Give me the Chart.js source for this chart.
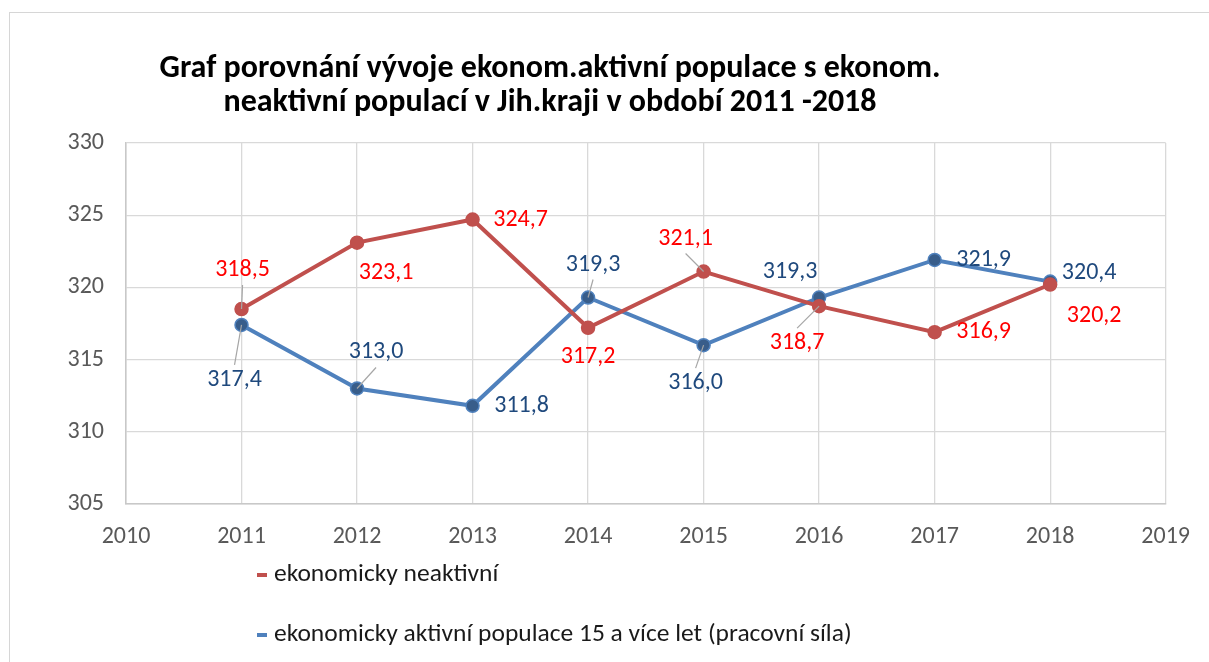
<!DOCTYPE html>
<html><head><meta charset="utf-8">
<script src="https://cdn.jsdelivr.net/npm/chart.js@4/dist/chart.umd.min.js"></script>
<style>
html,body{margin:0;padding:0;background:#fff;overflow:hidden;width:1209px;height:662px}
#frame{position:absolute;left:9px;top:12px;width:1400px;height:900px;border:1.3px solid #d6d6d6;box-sizing:border-box}
#wrap{position:absolute;left:0;top:0;width:1209px;height:662px}
</style></head><body>
<div id="frame"></div>
<div id="wrap"><canvas id="c" width="1209" height="662"></canvas></div>
<script>
// ---- data ----
const years = [2011, 2012, 2013, 2014, 2015, 2016, 2017, 2018];
const inactive = [318.5, 323.1, 324.7, 317.2, 321.1, 318.7, 316.9, 320.2];
const active = [317.4, 313.0, 311.8, 319.3, 316.0, 319.3, 321.9, 320.4];
const xTickLabels = ['2010','2011','2012','2013','2014','2015','2016','2017','2018','2019'];
const yTickLabels = ['305','310','315','320','325','330'];
const seriesNames = ['ekonomicky neaktivní', 'ekonomicky aktivní populace 15 a více let (pracovní síla)'];
const titleLines = ['Graf porovnání vývoje ekonom.aktivní populace s ekonom.', 'neaktivní populací v Jih.kraji v období 2011 -2018'];

// ---- label placement (pixel offsets from point, leader line flag) ----
const redLabelPlace = [[1,-39,true],[29,30,false],[48,0,false],[0,29,false],[-18,-33,true],[-22,37,true],[49,0,false],[44,31,false]];
const blueLabelPlace = [[-7,55,true],[19,-36,true],[49,0,false],[5,-33,true],[-8,38,true],[-29,-26,false],[49,0,false],[39,-9,false]];

const FONT = 'Carlito, Lato, "Open Sans", sans-serif';
const RED = '#c0504d', BLUE = '#4f81bd', BLUE_DARK = '#385d8a';
const labelColors = ['#ff0000', '#1f497d'];
const places = [redLabelPlace, blueLabelPlace];

const fmt = v => v.toFixed(1).replace('.', ',');

const labelsPlugin = {
  id: 'dlabels',
  afterDatasetsDraw(chart) {
    const ctx = chart.ctx;
    ctx.save();
    ctx.font = '24px ' + FONT;
    ctx.textAlign = 'center';
    ctx.textBaseline = 'middle';
    chart.data.datasets.forEach((ds, di) => {
      const meta = chart.getDatasetMeta(di);
      meta.data.forEach((pt, i) => {
        const [dx, dy, leader] = places[di][i];
        const lx = pt.x + dx, ly = pt.y + dy;
        if (leader) {
          ctx.strokeStyle = '#a6a6a6';
          ctx.lineWidth = 1.2;
          ctx.beginPath();
          ctx.moveTo(lx, ly + (dy > 0 ? -15 : 15));
          ctx.lineTo(pt.x, pt.y);
          ctx.stroke();
        }
        ctx.fillStyle = labelColors[di];
        ctx.fillText(fmt(ds.data[i].y), lx, ly);
      });
    });
    ctx.restore();
  }
};

const titleLegendPlugin = {
  id: 'titleLegend',
  afterDraw(chart) {
    const ctx = chart.ctx;
    ctx.save();
    ctx.fillStyle = '#000';
    ctx.font = 'bold 32px ' + FONT;
    ctx.textAlign = 'center';
    ctx.textBaseline = 'alphabetic';
    ctx.fillText(titleLines[0], 550, 77);
    ctx.fillText(titleLines[1], 550, 111);
    // legend
    ctx.font = '25.5px ' + FONT;
    ctx.textAlign = 'left';
    ctx.textBaseline = 'middle';
    const ys = [575, 635];
    chart.data.datasets.forEach((ds, di) => {
      ctx.fillStyle = ds.borderColor;
      ctx.fillRect(257, ys[di] - 2, 10, 4);
      ctx.fillStyle = '#1a1a1a';
      ctx.fillText(ds.label, 274, ys[di]);
    });
    ctx.restore();
  }
};

new Chart(document.getElementById('c'), {
  type: 'line',
  data: {
    datasets: [
      {
        label: seriesNames[0],
        data: years.map((y, i) => ({x: y, y: inactive[i]})),
        borderColor: RED, backgroundColor: RED,
        pointBackgroundColor: RED, pointBorderColor: RED,
        borderWidth: 4, pointRadius: 6.5, pointBorderWidth: 1.5,
        tension: 0
      },
      {
        label: seriesNames[1],
        data: years.map((y, i) => ({x: y, y: active[i]})),
        borderColor: BLUE, backgroundColor: BLUE,
        pointBackgroundColor: BLUE_DARK, pointBorderColor: BLUE,
        borderWidth: 4, pointRadius: 6.5, pointBorderWidth: 1.5,
        tension: 0
      }
    ]
  },
  options: {
    responsive: false,
    animation: false,
    layout: { padding: { left: 0, top: 143, right: 36, bottom: 0 } },
    plugins: { legend: { display: false }, title: { display: false }, tooltip: { enabled: false } },
    scales: {
      x: {
        type: 'linear', min: 2010, max: 2019,
        afterFit: s => { s.height = 158; },
        grid: { color: '#d9d9d9', lineWidth: 1.3, drawTicks: false },
        border: { color: '#c8c8c8', width: 1.5 },
        ticks: {
          stepSize: 1, padding: 19, color: '#595959', font: { family: FONT, size: 24 },
          callback: (v) => xTickLabels[v - 2010]
        }
      },
      y: {
        min: 305, max: 330,
        afterFit: s => { s.width = 126; },
        grid: { color: '#d9d9d9', lineWidth: 1.3, drawTicks: false },
        border: { color: '#c8c8c8', width: 1.5 },
        ticks: {
          stepSize: 5, padding: 22, color: '#595959', font: { family: FONT, size: 24 },
          callback: (v) => yTickLabels[(v - 305) / 5]
        }
      }
    }
  },
  plugins: [labelsPlugin, titleLegendPlugin]
});
</script>
</body></html>
